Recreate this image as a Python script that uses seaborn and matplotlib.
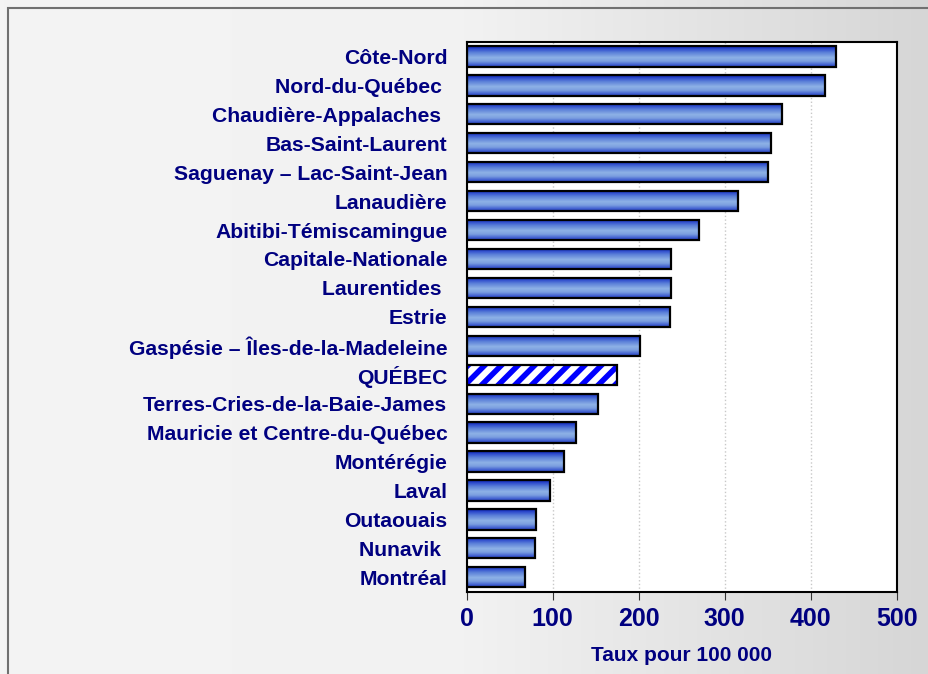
import numpy as np
import pandas as pd
import matplotlib
matplotlib.use("Agg")
import matplotlib.pyplot as plt
import seaborn as sns
from matplotlib.colors import LinearSegmentedColormap
from matplotlib.patches import Rectangle

regions = [
    "Côte-Nord", "Nord-du-Québec ", "Chaudière-Appalaches ", "Bas-Saint-Laurent",
    "Saguenay – Lac-Saint-Jean", "Lanaudière", "Abitibi-Témiscamingue",
    "Capitale-Nationale", "Laurentides ", "Estrie", "Gaspésie – Îles-de-la-Madeleine",
    "QUÉBEC", "Terres-Cries-de-la-Baie-James", "Mauricie et Centre-du-Québec",
    "Montérégie", "Laval", "Outaouais", "Nunavik ", "Montréal",
]
rates = [429, 417, 367, 354, 350, 316, 270, 238, 237, 236, 201, 175, 153,
         127, 113, 97, 81, 79, 68]
highlight = "QUÉBEC"
xticks = [0, 100, 200, 300, 400, 500]
xlabel = "Taux pour 100 000"

df = pd.DataFrame({"region": regions, "rate": rates})

sns.set_theme(style="white")
plt.rcParams["font.family"] = ["Liberation Sans", "DejaVu Sans"]
plt.rcParams["hatch.linewidth"] = 4.0

navy = "#000080"
fig = plt.figure(figsize=(9.29, 6.74), dpi=100)

# background gradient
bg = fig.add_axes([0, 0, 1, 1], zorder=-10)
grad = np.linspace(0, 1, 256).reshape(1, -1)
bg_cmap = LinearSegmentedColormap.from_list("bg", ["#f4f4f4", "#f2f2f2", "#d6d6d6"])
bg.imshow(grad, aspect="auto", cmap=bg_cmap, extent=[0, 1, 0, 1])
bg.add_patch(Rectangle((8 / 929, -0.1), 1.2, 1 - 8 / 674 + 0.1, fill=False,
                       edgecolor="#707070", linewidth=1.5))
bg.set_xlim(0, 1)
bg.set_ylim(0, 1)
bg.axis("off")

ax = fig.add_axes([0.5024, 0.1221, 0.4628, 0.8156])
ax.set_facecolor("white")
sns.barplot(data=df, x="rate", y="region", orient="h", ax=ax, width=0.7,
            color="#5577d8", edgecolor="black", linewidth=0, saturation=1)

bar_cmap = LinearSegmentedColormap.from_list(
    "bar", [(0, "#0a1ea8"), (0.12, "#2b48cc"), (0.3, "#5a7fd8"),
            (0.55, "#8eb2e6"), (0.72, "#7c9fe0"), (0.9, "#3f5ed0"), (1, "#2a44c0")])
vgrad = np.linspace(0, 1, 128).reshape(-1, 1)

for patch, name in zip(ax.patches, df["region"]):
    bb = patch.get_bbox()
    if name == highlight:
        patch.set_facecolor("white")
        patch.set_edgecolor("#0000ff")
        patch.set_hatch("//")
        patch.set_linewidth(0)
    else:
        im = ax.imshow(vgrad, aspect="auto", cmap=bar_cmap,
                       extent=[bb.x0, bb.x1, max(bb.y0, bb.y1), min(bb.y0, bb.y1)],
                       zorder=patch.get_zorder() + 0.1, origin="upper")
        im.set_clip_path(patch)
    ax.add_patch(Rectangle((bb.x0, bb.y0), bb.width, bb.height, fill=False,
                           edgecolor="black", linewidth=1.6,
                           zorder=patch.get_zorder() + 0.2))

ax.set_xlim(0, 500)
ax.set_ylim(len(regions) - 0.5, -0.5)
ax.set_xticks(xticks)
ax.set_xticklabels([str(t) for t in xticks], fontsize=18, fontweight="bold", color=navy)
ax.tick_params(axis="x", direction="out", length=6, width=0.8, color="#333333", pad=5, bottom=True)
ax.tick_params(axis="y", length=0, pad=14)
for lab in ax.get_yticklabels():
    lab.set_fontsize(15.2)
    lab.set_fontweight("bold")
    lab.set_color(navy)
ax.set_ylabel("")
ax.set_xlabel(xlabel, fontsize=15, fontweight="bold", color=navy, labelpad=11)
ax.grid(axis="x", color="#c8c8c8", linestyle=":", linewidth=1)
ax.set_axisbelow(True)
for s in ax.spines.values():
    s.set_visible(True)
    s.set_color("black")
    s.set_linewidth(1.5)

fig.savefig("out.png", dpi=100)
